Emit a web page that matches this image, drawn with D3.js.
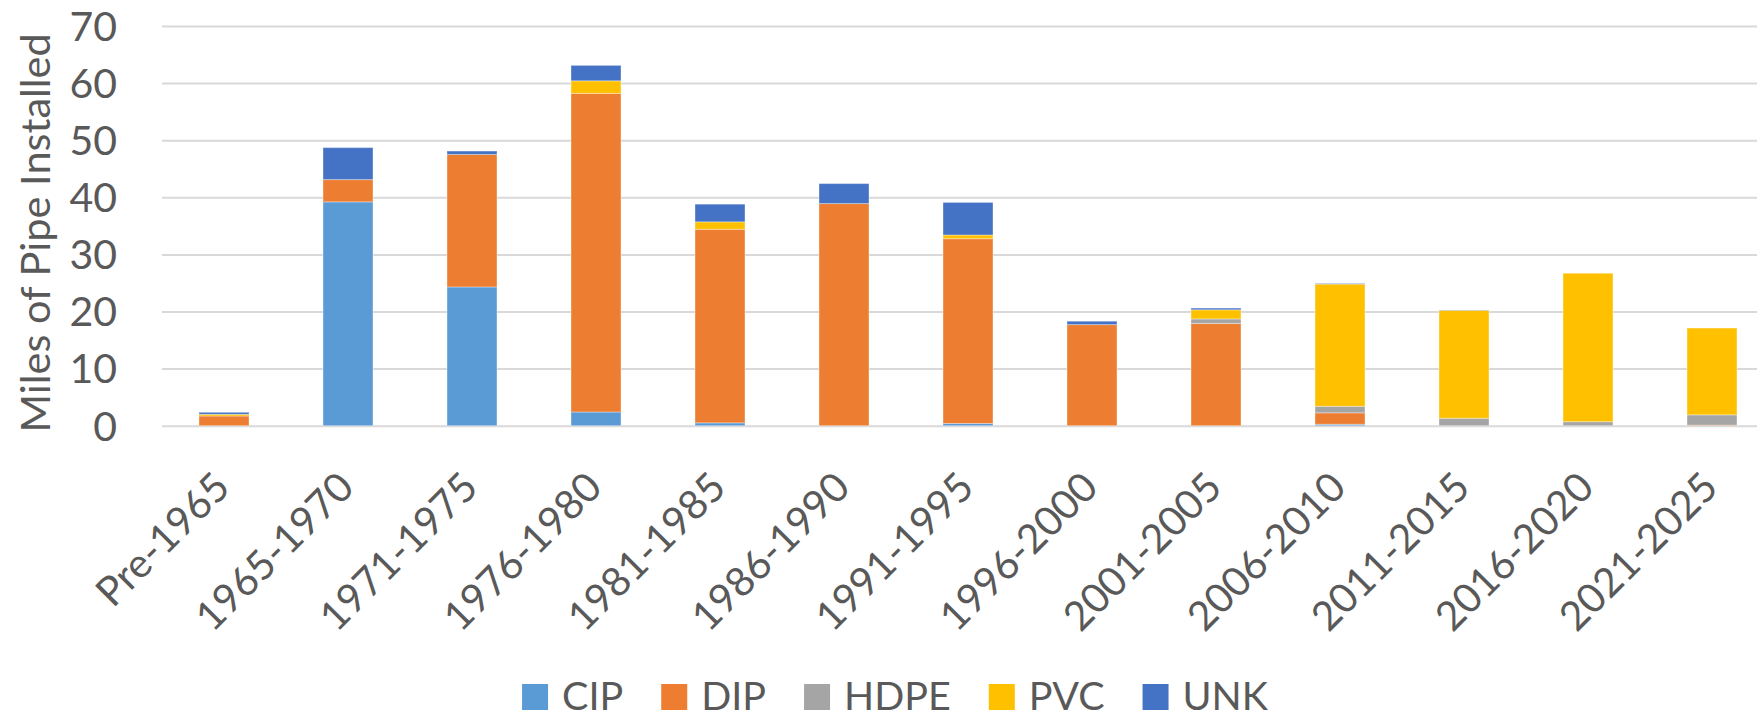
<!DOCTYPE html>
<html>
<head>
<meta charset="utf-8">
<script src="https://cdn.jsdelivr.net/npm/d3@7"></script>
<style>
  body { margin: 0; background: #fff; }
  svg { display: block; font-family: Lato, 'Open Sans', sans-serif; }
  .grid line { stroke: #d9d9d9; stroke-width: 2; }
  .grid .domain { display: none; }
  .tick text { fill: #595959; }
</style>
</head>
<body>
<div id="chart"></div>
<script>
const categories = ['Pre-1965', '1965-1970', '1971-1975', '1976-1980', '1981-1985', '1986-1990',
  '1991-1995', '1996-2000', '2001-2005', '2006-2010', '2011-2015', '2016-2020', '2021-2025']
const seriesNames = ['CIP', 'DIP', 'HDPE', 'PVC', 'UNK']
const CIP = [0, 39.2, 24.3, 2.4, 0.5, 0, 0.4, 0, 0, 0.25, 0, 0, 0]
const DIP = [1.7, 3.9, 23.2, 55.8, 33.9, 38.9, 32.35, 17.7, 17.9, 2.0, 0, 0, 0.1]
const HDPE = [0, 0, 0, 0, 0, 0, 0, 0, 0.8, 1.15, 1.3, 0.7, 1.8]
const PVC = [0.3, 0, 0, 2.2, 1.3, 0, 0.65, 0, 1.6, 21.4, 18.9, 26.0, 15.2]
const UNK = [0.35, 5.6, 0.6, 2.7, 3.1, 3.5, 5.7, 0.6, 0.3, 0.1, 0.05, 0, 0]
const yTicks = [0, 10, 20, 30, 40, 50, 60, 70]
const colors = ['#5b9bd5', '#ed7d31', '#a5a5a5', '#ffc000', '#4472c4']

const width = 1757
const height = 718
const plot = { left: 162, right: 162 + 13 * 124, top: 26, bottom: 425.7 }

// rows for d3.stack
const table = categories.map((c, i) => ({
  cat: c, CIP: CIP[i], DIP: DIP[i], HDPE: HDPE[i], PVC: PVC[i], UNK: UNK[i]
}))
const stacked = d3.stack().keys(seriesNames)(table)

const x = d3.scaleBand().domain(categories)
  .range([plot.left, plot.right])
  .paddingInner(0.597).paddingOuter(0.2985)
const y = d3.scaleLinear().domain([0, 70]).range([plot.bottom, plot.top])
const color = d3.scaleOrdinal().domain(seriesNames).range(colors)

const svg = d3.select('#chart').append('svg')
  .attr('width', width)
  .attr('height', height)

// gridlines + y labels
const yAxis = svg.append('g')
  .attr('class', 'grid')
  .attr('transform', `translate(${plot.left},0)`)
  .call(d3.axisLeft(y).tickValues(yTicks).tickSize(-(width - plot.left)).tickPadding(0))
yAxis.selectAll('.tick text')
  .attr('x', 117 - plot.left)
  .attr('dy', '0.35em')
  .style('font-size', '41px')
  .style('font-family', 'Lato, sans-serif')

// bars
svg.append('g').selectAll('g')
  .data(stacked)
  .join('g')
  .attr('fill', d => color(d.key))
  .selectAll('rect')
  .data(d => d.filter(s => s[1] - s[0] > 0))
  .join('rect')
  .attr('x', d => x(d.data.cat))
  .attr('width', x.bandwidth())
  .attr('y', d => y(d[1]))
  .attr('height', d => y(d[0]) - y(d[1]))
  .attr('stroke', '#fff')
  .attr('stroke-opacity', 0.35)
  .attr('stroke-width', 1)

// x labels, rotated
const xAxis = svg.append('g')
  .attr('transform', `translate(0,${plot.bottom})`)
  .call(d3.axisBottom(x).tickSize(0).tickPadding(0))
xAxis.select('.domain').remove()
xAxis.selectAll('.tick text')
  .attr('text-anchor', 'end')
  .attr('dy', 0)
  .attr('y', 0)
  .attr('transform', 'translate(8,64) rotate(-45)')
  .style('font-size', '40.5px')
  .style('font-family', 'Lato, sans-serif')

// y title
svg.append('text')
  .attr('transform', `translate(50,${(plot.top + plot.bottom) / 2 + 7}) rotate(-90)`)
  .attr('text-anchor', 'middle')
  .attr('fill', '#595959')
  .style('font-size', '41.5px')
  .text('Miles of Pipe Installed')

// legend
const legend = svg.append('g')
const items = legend.selectAll('g')
  .data(seriesNames)
  .join('g')
items.append('rect')
  .attr('y', 684)
  .attr('width', 26)
  .attr('height', 26)
  .attr('fill', d => color(d))
items.append('text')
  .attr('x', 40)
  .attr('y', 710)
  .attr('fill', '#595959')
  .style('font-size', '39.5px')
  .text(d => d)
let offsets = []
let total = 0
items.each(function() {
  const w = 40 + d3.select(this).select('text').node().getComputedTextLength()
  offsets.push(total)
  total += w + 38
})
total -= 38
const legendStart = 895 - total / 2
items.attr('transform', (d, i) => `translate(${legendStart + offsets[i]},0)`)
</script>
</body>
</html>
